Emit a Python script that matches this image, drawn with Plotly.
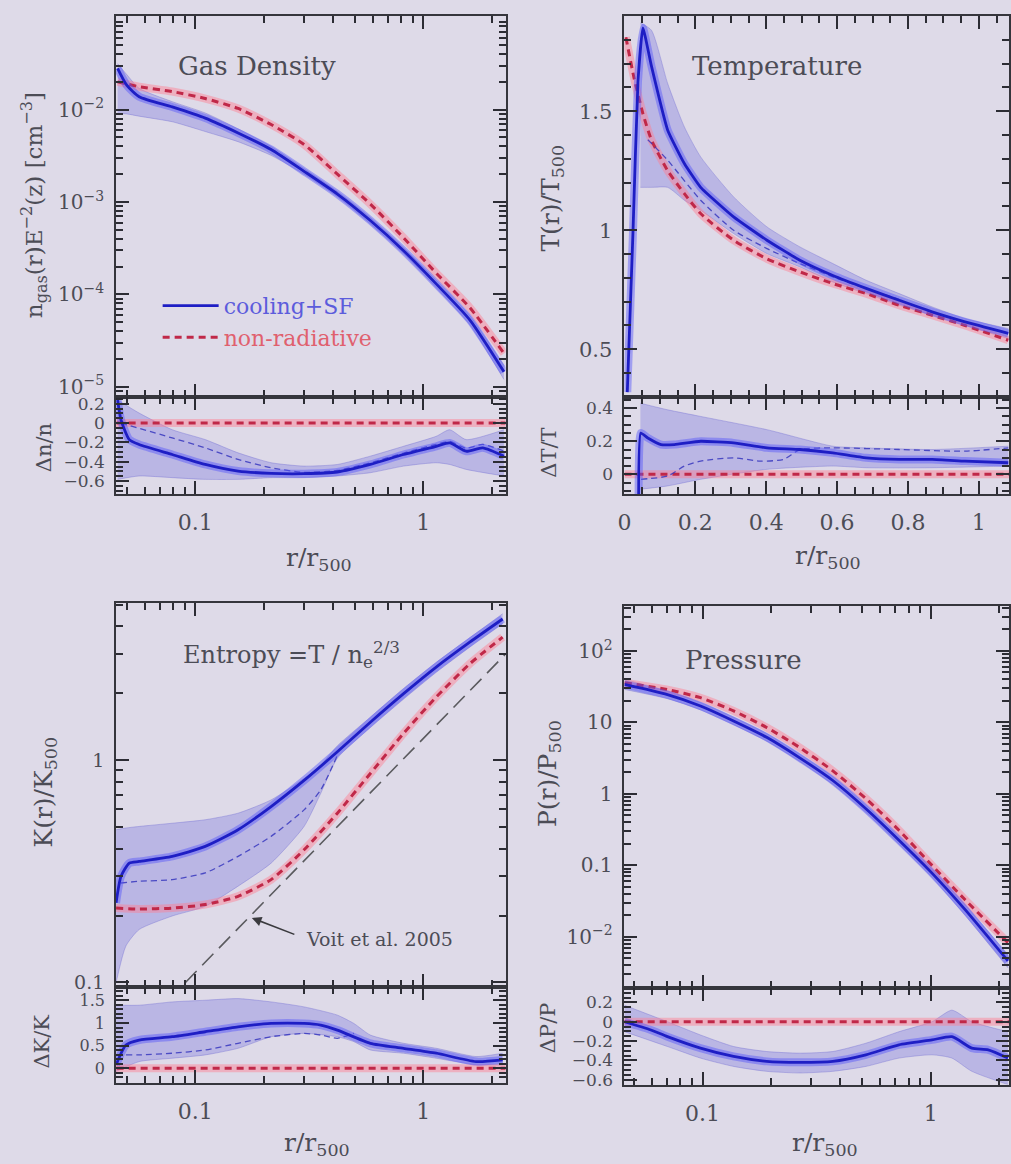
import plotly.graph_objects as go

W, H = 1011, 1164
BG = "#dedae8"
TXT = "#4c4c56"
FRAME = "#35353c"
TICK = "#2c2c34"
FONT = "DejaVu Serif"
BLUE = "#1e1ec4"
BLUE_GLOW = "rgba(85,85,250,0.45)"
RED = "#c02848"
RED_GLOW = "rgba(255,125,145,0.45)"
BAND = "rgba(112,108,222,0.33)"
BAND_EDGE = "rgba(110,105,210,0.55)"
MED = "rgba(55,55,190,0.85)"

# ---------------- DATA ----------------
# Gas density
r_dens = [0.0456, 0.0500, 0.0567, 0.0792, 0.1105, 0.154, 0.215, 0.30, 0.42, 0.586, 0.82, 1.14, 1.60, 2.26]
n_cool = [0.028, 0.0184, 0.0138, 0.0107, 0.0081, 0.0056, 0.0037, 0.00215, 0.00122, 6.3e-4, 2.97e-4, 1.3e-4, 5.3e-5, 1.45e-5]
n_nonrad = [0.020, 0.019, 0.0177, 0.0157, 0.0132, 0.0103, 0.0069, 0.0042, 0.0020, 9.5e-4, 4.1e-4, 1.7e-4, 7.2e-5, 2.3e-5]
n_hi = [0.0315, 0.024, 0.017, 0.0122, 0.0092, 0.0062, 0.0040, 0.0023, 0.0013, 6.8e-4, 3.2e-4, 1.42e-4, 5.9e-5, 1.7e-5]
n_lo = [0.0091, 0.009, 0.0085, 0.0074, 0.0058, 0.0045, 0.0032, 0.0020, 0.00114, 5.8e-4, 2.75e-4, 1.18e-4, 4.7e-5, 1.2e-5]

# Delta n / n
r_dn = [0.0456, 0.0472, 0.0513, 0.0567, 0.0792, 0.1105, 0.154, 0.215, 0.30, 0.42, 0.586, 0.82, 1.14, 1.306, 1.543, 1.823, 2.26]
dn_cool = [0.239, 0.034, -0.171, -0.222, -0.325, -0.428, -0.496, -0.52, -0.523, -0.506, -0.428, -0.325, -0.24, -0.205, -0.291, -0.256, -0.342]
r_dn_med = [0.0472, 0.0792, 0.1105, 0.154, 0.215, 0.30, 0.42, 0.586, 0.82, 1.14, 1.306, 1.543, 1.823, 2.26]
dn_med = [0.0, -0.154, -0.256, -0.376, -0.462, -0.51, -0.49, -0.41, -0.31, -0.22, -0.19, -0.26, -0.22, -0.29]
r_dn_band = [0.0456, 0.0567, 0.0792, 0.1105, 0.154, 0.215, 0.30, 0.42, 0.586, 0.82, 1.14, 1.306, 1.543, 2.26]
dn_hi = [0.239, 0.103, -0.069, -0.171, -0.308, -0.41, -0.445, -0.428, -0.342, -0.24, -0.137, -0.069, -0.171, -0.069]
dn_lo = [-0.582, -0.547, -0.564, -0.582, -0.582, -0.564, -0.564, -0.547, -0.513, -0.445, -0.41, -0.428, -0.479, -0.547]

# Temperature
r_T_cool = [0.008, 0.024, 0.038, 0.052, 0.076, 0.122, 0.169, 0.215, 0.308, 0.402, 0.495, 0.588, 0.682, 0.775, 0.868, 0.961, 1.083]
T_cool = [0.32, 0.99, 1.62, 1.85, 1.69, 1.42, 1.28, 1.18, 1.056, 0.958, 0.874, 0.81, 0.756, 0.706, 0.657, 0.615, 0.567]
r_T_non = [0.004, 0.027, 0.052, 0.076, 0.122, 0.169, 0.215, 0.308, 0.402, 0.495, 0.588, 0.682, 0.775, 0.868, 0.961, 1.083]
T_non = [1.81, 1.64, 1.49, 1.38, 1.25, 1.154, 1.07, 0.958, 0.88, 0.825, 0.776, 0.734, 0.685, 0.643, 0.60, 0.538]
r_T_band = [0.045, 0.076, 0.122, 0.169, 0.215, 0.308, 0.402, 0.495, 0.588, 0.682, 0.775, 0.868, 0.961, 1.083]
T_hi = [1.87, 1.84, 1.616, 1.434, 1.308, 1.14, 1.014, 0.93, 0.86, 0.79, 0.734, 0.678, 0.629, 0.587]
T_lo = [1.18, 1.18, 1.18, 1.126, 1.084, 0.986, 0.902, 0.846, 0.783, 0.734, 0.685, 0.643, 0.60, 0.545]
r_T_med = [0.066, 0.122, 0.215, 0.308, 0.402, 0.495, 0.588, 0.682, 0.775]
T_med = [1.38, 1.294, 1.126, 1.0, 0.923, 0.86, 0.804, 0.755, 0.71]

# Delta T / T
r_dT = [0.040, 0.046, 0.066, 0.103, 0.141, 0.215, 0.308, 0.402, 0.495, 0.588, 0.682, 0.775, 0.868, 0.961, 1.083]
dT_cool = [-0.3, 0.25, 0.22, 0.18, 0.18, 0.20, 0.19, 0.16, 0.15, 0.13, 0.10, 0.09, 0.09, 0.08, 0.07]
r_dT_med = [0.047, 0.122, 0.169, 0.215, 0.308, 0.383, 0.449, 0.495, 0.588, 0.775, 0.961, 1.083]
dT_med = [-0.03, -0.01, 0.05, 0.08, 0.10, 0.08, 0.09, 0.15, 0.16, 0.15, 0.14, 0.16]
r_dT_band = [0.045, 0.122, 0.215, 0.402, 0.588, 0.682, 0.868, 1.083]
dT_hi = [0.43, 0.39, 0.35, 0.27, 0.17, 0.16, 0.15, 0.17]
dT_lo = [-0.09, -0.07, -0.03, 0.03, 0.05, 0.04, 0.04, 0.05]

# Entropy
r_K_cool = [0.0449, 0.0472, 0.0513, 0.0567, 0.0792, 0.1105, 0.154, 0.215, 0.30, 0.42, 0.586, 0.82, 1.14, 1.60, 2.23]
K_cool = [0.228, 0.30, 0.344, 0.35, 0.369, 0.409, 0.486, 0.618, 0.81, 1.09, 1.48, 1.99, 2.62, 3.39, 4.31]
r_K_non = [0.0449, 0.0567, 0.0792, 0.1105, 0.154, 0.215, 0.30, 0.42, 0.586, 0.82, 1.14, 1.60, 2.23]
K_non = [0.216, 0.214, 0.216, 0.224, 0.244, 0.29, 0.395, 0.577, 0.871, 1.32, 1.92, 2.71, 3.57]
r_K_band = [0.0449, 0.0496, 0.0567, 0.0792, 0.1105, 0.154, 0.215, 0.30, 0.355, 0.42, 0.586, 0.82, 1.14, 1.60, 2.23]
K_hi = [0.486, 0.495, 0.503, 0.520, 0.539, 0.577, 0.662, 0.827, 0.95, 1.16, 1.56, 2.1, 2.75, 3.55, 4.55]
K_lo = [0.10, 0.146, 0.173, 0.199, 0.220, 0.271, 0.344, 0.503, 0.709, 1.02, 1.40, 1.88, 2.48, 3.22, 4.1]
r_K_med = [0.0472, 0.0567, 0.0792, 0.1105, 0.154, 0.215, 0.30, 0.355, 0.42]
K_med = [0.28, 0.285, 0.290, 0.311, 0.369, 0.454, 0.597, 0.734, 1.05]
r_voit = [0.0905, 2.3]
K_voit = [0.1, 3.0]

# Delta K / K
r_dK = [0.0449, 0.0496, 0.0567, 0.0792, 0.1105, 0.154, 0.215, 0.30, 0.355, 0.42, 0.586, 0.82, 1.14, 1.705, 2.23]
dK_cool = [0.073, 0.513, 0.623, 0.696, 0.806, 0.916, 0.99, 0.99, 0.953, 0.843, 0.55, 0.44, 0.33, 0.145, 0.183]
r_dK_med = [0.0496, 0.0567, 0.0792, 0.1105, 0.154, 0.215, 0.30, 0.355, 0.42, 0.496]
dK_med = [0.293, 0.293, 0.33, 0.403, 0.55, 0.696, 0.77, 0.733, 0.66, 0.77]
r_dK_band = [0.0449, 0.0567, 0.0792, 0.1105, 0.154, 0.215, 0.30, 0.42, 0.496, 0.586, 0.82, 1.14, 1.705, 2.23]
dK_hi = [1.394, 1.394, 1.467, 1.504, 1.54, 1.467, 1.357, 1.174, 0.99, 0.733, 0.55, 0.44, 0.256, 0.33]
dK_lo = [-0.073, 0.146, 0.22, 0.293, 0.44, 0.696, 0.77, 0.696, 0.587, 0.403, 0.33, 0.22, 0.073, 0.073]

# Pressure
r_P = [0.0455, 0.0702, 0.098, 0.1368, 0.191, 0.2667, 0.3724, 0.52, 0.726, 1.013, 1.415, 2.18]
P_cool = [34, 24.5, 17, 10.5, 6.2, 3.2, 1.54, 0.62, 0.225, 0.078, 0.024, 0.0046]
P_non = [36, 28.8, 22.2, 14.5, 8.5, 4.45, 2.1, 0.86, 0.31, 0.10, 0.033, 0.0083]
P_hi = [40, 27.5, 19, 11.8, 7.0, 3.6, 1.75, 0.70, 0.255, 0.089, 0.028, 0.0056]
P_lo = [29, 21.5, 15, 9.3, 5.5, 2.85, 1.36, 0.55, 0.198, 0.068, 0.020, 0.0037]

# Delta P / P
r_dP = [0.0455, 0.0594, 0.0702, 0.098, 0.1368, 0.191, 0.2667, 0.3724, 0.52, 0.726, 1.013, 1.238, 1.514, 1.786, 2.18]
dP_cool = [0.0, -0.085, -0.154, -0.273, -0.359, -0.41, -0.42, -0.41, -0.342, -0.239, -0.188, -0.154, -0.273, -0.29, -0.376]
r_dP_band = [0.0455, 0.0702, 0.098, 0.1368, 0.191, 0.2667, 0.3724, 0.52, 0.726, 1.013, 1.238, 1.514, 2.18]
dP_hi = [0.171, 0.0, -0.137, -0.256, -0.308, -0.325, -0.308, -0.222, -0.103, 0.0, 0.12, 0.0, -0.103]
dP_lo = [-0.103, -0.256, -0.376, -0.462, -0.513, -0.53, -0.513, -0.462, -0.376, -0.342, -0.376, -0.513, -0.65]

# zero reference lines
r_zero_log = [0.04, 2.5]
r_zero_lin = [0.0, 1.2]
zero = [0.0, 0.0]

# ---------------- FIGURE ----------------
fig = go.Figure()


def band(x, lo, hi, xa, ya):
    fig.add_trace(go.Scatter(x=x, y=lo, xaxis=xa, yaxis=ya, mode="lines",
                             line=dict(width=0.7, color=BAND_EDGE, shape="spline", smoothing=0.6),
                             showlegend=False, hoverinfo="skip"))
    fig.add_trace(go.Scatter(x=x, y=hi, xaxis=xa, yaxis=ya, mode="lines", fill="tonexty",
                             fillcolor=BAND,
                             line=dict(width=0.7, color=BAND_EDGE, shape="spline", smoothing=0.6),
                             showlegend=False, hoverinfo="skip"))


def glow(x, y, xa, ya, core, glowc, dash=None, w=2.8, gw=8, name=None, legend=False, sm=0.6):
    fig.add_trace(go.Scatter(x=x, y=y, xaxis=xa, yaxis=ya, mode="lines",
                             line=dict(color=glowc, width=gw, shape="spline", smoothing=sm),
                             showlegend=False, hoverinfo="skip"))
    fig.add_trace(go.Scatter(x=x, y=y, xaxis=xa, yaxis=ya, mode="lines",
                             line=dict(color=core, width=w, dash=dash, shape="spline", smoothing=sm),
                             name=name, showlegend=legend, legendgroup=name))


def med(x, y, xa, ya):
    fig.add_trace(go.Scatter(x=x, y=y, xaxis=xa, yaxis=ya, mode="lines",
                             line=dict(color=MED, width=1.3, dash="6px,4px", shape="spline", smoothing=0.6),
                             showlegend=False, hoverinfo="skip"))


RDASH = "7px,5px"

# Panel 1: density
band(r_dens, n_lo, n_hi, "x", "y")
glow(r_dens, n_nonrad, "x", "y", RED, RED_GLOW, dash=RDASH, w=3)
glow(r_dens, n_cool, "x", "y", BLUE, BLUE_GLOW,
     name="<span style='color:#5c5cdc'>cooling+SF</span>", legend=True)
fig.add_trace(go.Scatter(x=[None], y=[None], xaxis="x", yaxis="y", mode="lines",
                         line=dict(color=RED, width=3, dash=RDASH),
                         name="<span style='color:#e0606e'>non-radiative</span>",
                         showlegend=True, legendgroup="nr"))

# Panel 1 sub: dn/n
band(r_dn_band, dn_lo, dn_hi, "x2", "y2")
glow(r_zero_log, zero, "x2", "y2", RED, RED_GLOW, dash=RDASH, w=3)
med(r_dn_med, dn_med, "x2", "y2")
glow(r_dn, dn_cool, "x2", "y2", BLUE, BLUE_GLOW)

# Panel 2: temperature
band(r_T_band, T_lo, T_hi, "x3", "y3")
glow(r_T_non, T_non, "x3", "y3", RED, RED_GLOW, dash=RDASH, w=3)
med(r_T_med, T_med, "x3", "y3")
glow(r_T_cool, T_cool, "x3", "y3", BLUE, BLUE_GLOW, sm=0.4)

# Panel 2 sub
band(r_dT_band, dT_lo, dT_hi, "x4", "y4")
glow(r_zero_lin, zero, "x4", "y4", RED, RED_GLOW, dash=RDASH, w=3)
med(r_dT_med, dT_med, "x4", "y4")
glow(r_dT, dT_cool, "x4", "y4", BLUE, BLUE_GLOW, sm=0.4)

# Panel 3: entropy
band(r_K_band, K_lo, K_hi, "x5", "y5")
fig.add_trace(go.Scatter(x=r_voit, y=K_voit, xaxis="x5", yaxis="y5", mode="lines",
                         line=dict(color="#5a5a5e", width=1.6, dash="16px,8px"),
                         showlegend=False, hoverinfo="skip"))
glow(r_K_non, K_non, "x5", "y5", RED, RED_GLOW, dash=RDASH, w=3)
med(r_K_med, K_med, "x5", "y5")
glow(r_K_cool, K_cool, "x5", "y5", BLUE, BLUE_GLOW)

# Panel 3 sub
band(r_dK_band, dK_lo, dK_hi, "x6", "y6")
glow(r_zero_log, zero, "x6", "y6", RED, RED_GLOW, dash=RDASH, w=3)
med(r_dK_med, dK_med, "x6", "y6")
glow(r_dK, dK_cool, "x6", "y6", BLUE, BLUE_GLOW)

# Panel 4: pressure
band(r_P, P_lo, P_hi, "x7", "y7")
glow(r_P, P_non, "x7", "y7", RED, RED_GLOW, dash=RDASH, w=3)
glow(r_P, P_cool, "x7", "y7", BLUE, BLUE_GLOW)

# Panel 4 sub
band(r_dP_band, dP_lo, dP_hi, "x8", "y8")
glow(r_zero_log, zero, "x8", "y8", RED, RED_GLOW, dash=RDASH, w=3)
glow(r_dP, dP_cool, "x8", "y8", BLUE, BLUE_GLOW)


# ---------------- AXES ----------------
def px(v):
    return v / W


def py(v):
    return 1 - v / H


def logminor(e0, e1):
    return [k * 10.0 ** e for e in range(e0, e1 + 1) for k in range(2, 10)]


def axis(domain, anchor, rng, typ="linear", showlabels=True, fsize=20, standoff=6,
         tickvals=None, ticktext=None, dtick=None, mdtick=None, mvals=None):
    a = dict(domain=domain, anchor=anchor, range=rng, type=typ,
             showline=True, linecolor=FRAME, linewidth=1.8, mirror="allticks",
             ticks="inside", ticklen=13, tickwidth=2, tickcolor=TICK,
             showgrid=False, zeroline=False, showticklabels=showlabels,
             ticklabelstandoff=standoff,
             tickfont=dict(family=FONT, size=fsize, color=TXT))
    if tickvals is not None:
        a["tickmode"] = "array"
        a["tickvals"] = tickvals
        if ticktext is not None:
            a["ticktext"] = ticktext
    elif dtick is not None:
        a["tickmode"] = "linear"
        a["dtick"] = dtick
        a["tick0"] = 0
    minor = dict(ticks="inside", ticklen=7, tickwidth=1.6, tickcolor=TICK, showgrid=False)
    if mvals is not None:
        minor["tickmode"] = "array"
        minor["tickvals"] = mvals
    elif mdtick is not None:
        minor["tickmode"] = "linear"
        minor["dtick"] = mdtick
        minor["tick0"] = 0
    a["minor"] = minor
    return a


XL = [px(110), px(503)]
XR = [px(623), 1.0]
XLOG_L = [-1.348, 0.361]
XLOG_R = [-1.342, 0.343]
xlog_vals = [0.1, 1]
xlog_text = ["0.1", "1"]
xlog_minor = [0.05, 0.06, 0.07, 0.08, 0.09] + [0.2, 0.3, 0.4, 0.5, 0.6, 0.7, 0.8, 0.9] + [2]

layout_axes = {}
# top-left
layout_axes["xaxis"] = axis(XL, "y", XLOG_L, "log", False, tickvals=xlog_vals, mvals=xlog_minor)
layout_axes["yaxis"] = axis([py(397), py(13)], "x", [-5.11, -0.985], "log", True, 20,
                            tickvals=[1e-2, 1e-3, 1e-4, 1e-5],
                            ticktext=["10<sup>−2</sup>", "10<sup>−3</sup>", "10<sup>−4</sup>", "10<sup>−5</sup>"],
                            mvals=logminor(-6, -2))
layout_axes["xaxis2"] = axis(XL, "y2", XLOG_L, "log", True, 22, 8,
                             tickvals=xlog_vals, ticktext=xlog_text, mvals=xlog_minor)
layout_axes["yaxis2"] = axis([py(495), py(397)], "x2", [-0.735, 0.27], "linear", True, 17,
                             tickvals=[0.2, 0, -0.2, -0.4, -0.6],
                             ticktext=["0.2", "0", "−0.2", "−0.4", "−0.6"], mdtick=0.05)
# top-right
layout_axes["xaxis3"] = axis(XR, "y3", [0, 1.085], "linear", False, dtick=0.2, mdtick=0.05)
layout_axes["yaxis3"] = axis([py(397), py(13)], "x3", [0.3, 1.9], "linear", True, 21,
                             tickvals=[0.5, 1, 1.5], ticktext=["0.5", "1", "1.5"], mdtick=0.1)
layout_axes["xaxis4"] = axis(XR, "y4", [0, 1.085], "linear", True, 22, 8,
                             tickvals=[0, 0.2, 0.4, 0.6, 0.8, 1],
                             ticktext=["0", "0.2", "0.4", "0.6", "0.8", "1"], mdtick=0.05)
layout_axes["yaxis4"] = axis([py(495), py(397)], "x4", [-0.12, 0.468], "linear", True, 17,
                             tickvals=[0, 0.2, 0.4], ticktext=["0", "0.2", "0.4"], mdtick=0.05)
# bottom-left
layout_axes["xaxis5"] = axis(XL, "y5", XLOG_L, "log", False, tickvals=xlog_vals, mvals=xlog_minor)
layout_axes["yaxis5"] = axis([py(992), py(605)], "x5", [-1.022, 0.705], "log", True, 19,
                             tickvals=[0.1, 1], ticktext=["0.1", "1"], mvals=logminor(-1, 0))
layout_axes["xaxis6"] = axis(XL, "y6", XLOG_L, "log", True, 22, 8,
                             tickvals=xlog_vals, ticktext=xlog_text, mvals=xlog_minor)
layout_axes["yaxis6"] = axis([py(1088), py(992)], "x6", [-0.32, 1.79], "linear", True, 16,
                             tickvals=[0, 0.5, 1, 1.5], ticktext=["0", "0.5", "1", "1.5"], mdtick=0.1)
# bottom-right
layout_axes["xaxis7"] = axis(XR, "y7", XLOG_R, "log", False, tickvals=xlog_vals, mvals=xlog_minor)
layout_axes["yaxis7"] = axis([py(993), py(608)], "x7", [-2.72, 2.625], "log", True, 20,
                             tickvals=[100, 10, 1, 0.1, 0.01],
                             ticktext=["10<sup>2</sup>", "10", "1", "0.1", "10<sup>−2</sup>"],
                             mvals=logminor(-3, 2))
layout_axes["xaxis8"] = axis(XR, "y8", XLOG_R, "log", True, 22, 8,
                             tickvals=xlog_vals, ticktext=xlog_text, mvals=xlog_minor)
layout_axes["yaxis8"] = axis([py(1090), py(993)], "x8", [-0.65, 0.346], "linear", True, 17,
                             tickvals=[0.2, 0, -0.2, -0.4, -0.6],
                             ticktext=["0.2", "0", "−0.2", "−0.4", "−0.6"], mdtick=0.05)

fig.update_layout(**layout_axes)

# ---------------- ANNOTATIONS ----------------
ann = []


def txt(x, y, s, size=24, angle=0, xanchor="center", color=TXT):
    ann.append(dict(x=px(x), y=py(y), xref="paper", yref="paper", text=s, showarrow=False,
                    textangle=angle, xanchor=xanchor, yanchor="middle",
                    font=dict(family=FONT, size=size, color=color)))


txt(252, 63, "Gas Density", 26)
txt(777, 63, "Temperature", 26)
txt(287, 657, "Entropy =T / n<sub>e</sub><sup>2/3</sup>", 24)
txt(743, 662, "Pressure", 26)

txt(27, 204, "n<sub>gas</sub>(r)E<sup>−2</sup>(z) [cm<sup>−3</sup>]", 23, -90)
txt(37, 448, "Δn/n", 21, -90)
txt(550, 197, "T(r)/T<sub>500</sub>", 25, -90)
txt(547, 453, "ΔT/T", 21, -90)
txt(38, 795, "K(r)/K<sub>500</sub>", 25, -90)
txt(35, 1047, "ΔK/K", 21, -90)
txt(547, 777, "P(r)/P<sub>500</sub>", 25, -90)
txt(546, 1033, "ΔP/P", 21, -90)

for (x, y) in [(315, 560), (828, 558), (313, 1150), (825, 1150)]:
    txt(x, y, "r/r<sub>500</sub>", 25)

txt(300, 943, "Voit et al. 2005", 19, xanchor="left")
ann.append(dict(x=-0.752, y=-0.71, xref="x5", yref="y5", ax=44, ay=17, text="",
                showarrow=True, arrowhead=2, arrowsize=1.2, arrowwidth=1.6, arrowcolor="#3a3a3e"))

fig.update_layout(
    annotations=ann,
    width=W, height=H,
    margin=dict(l=0, r=0, t=0, b=0),
    paper_bgcolor=BG, plot_bgcolor=BG,
    showlegend=True,
    legend=dict(x=px(152), y=py(284), xanchor="left", yanchor="top",
                bgcolor="rgba(0,0,0,0)", borderwidth=0,
                font=dict(family=FONT, size=22),
                itemwidth=56, tracegroupgap=8, traceorder="normal"),
)

fig.write_html("out.html")
